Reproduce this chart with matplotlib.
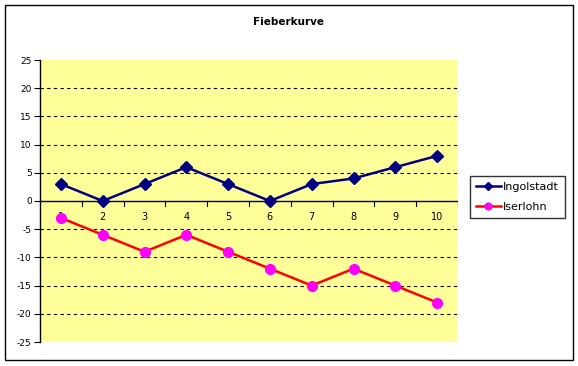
import matplotlib
matplotlib.use("Agg")
import matplotlib.pyplot as plt
from matplotlib.patches import Rectangle

# data
days = [1, 2, 3, 4, 5, 6, 7, 8, 9, 10]
ingolstadt = [3, 0, 3, 6, 3, 0, 3, 4, 6, 8]
iserlohn = [-3, -6, -9, -6, -9, -12, -15, -12, -15, -18]
y_ticks = [-25, -20, -15, -10, -5, 0, 5, 10, 15, 20, 25]

plt.rcParams['font.family'] = ['DejaVu Sans']
plt.rcParams['axes.unicode_minus'] = False

fig = plt.figure(figsize=(5.78, 3.66), dpi=100)
ax = fig.add_axes([40/578, 1-342/366, 418/578, 282/366])
ax.set_facecolor("#FFFF99")

# outer chart border
fig.patches.append(Rectangle((5/578, 6/366), 568/578, 355/366, transform=fig.transFigure,
                             fill=False, edgecolor="black", linewidth=1))

ax.plot(days, ingolstadt, color="#000080", marker="D", markersize=6, linewidth=1.8,
        label="Ingolstadt")
ax.plot(days, iserlohn, color="#FF0000", marker="o", markersize=7,
        markerfacecolor="#FF00FF", markeredgecolor="#FF00FF", linewidth=1.8, label="Iserlohn")

ax.set_xlim(0.5, 10.5)
ax.set_ylim(-25, 25)
ax.set_yticks(y_ticks)
for y in y_ticks:
    if y not in (0, -25, 25):
        ax.axhline(y, color="black", linestyle=(0, (3, 3)), linewidth=0.8, zorder=0.5)

for s in ["top", "right", "bottom"]:
    ax.spines[s].set_visible(False)
ax.spines["left"].set_linewidth(1)
ax.axhline(0, color="black", linewidth=1, zorder=1)

# x tick labels sit just below the zero line, ticks between categories
ax.set_xticks([])
for d in days:
    ax.text(d, -2.0, str(d), ha="center", va="top", fontsize=7, zorder=1)
for d in days:
    ax.plot([d + 0.5, d + 0.5], [0, -0.8], color="black", linewidth=0.8, zorder=1)

ax.tick_params(axis="y", labelsize=6.5, length=4, direction="out", pad=2)

fig.text(0.5, 1-22/366, "Fieberkurve", ha="center", va="center", fontsize=7.5, fontweight="bold")

leg = fig.legend(loc="center left", bbox_to_anchor=(470/578, 1-197/366), fontsize=8,
                 frameon=True, fancybox=False, edgecolor="black", handlelength=2.3,
                 borderpad=0.5, labelspacing=0.9, handletextpad=0.2, markerscale=0.7,
                 borderaxespad=0)
leg.get_frame().set_linewidth(1)

fig.savefig("out.png", dpi=100)
